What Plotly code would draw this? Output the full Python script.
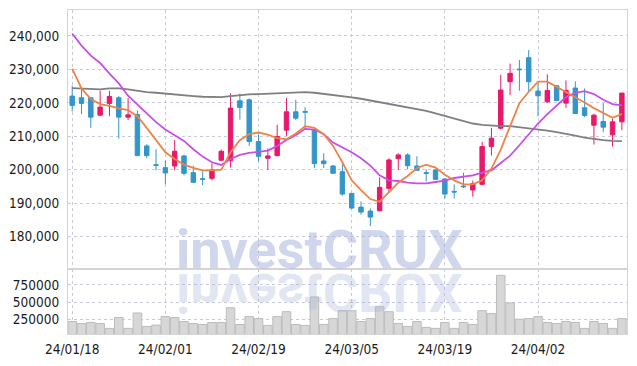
import plotly.graph_objects as go

dates = ["24/01/18","24/01/19","24/01/22","24/01/23","24/01/24","24/01/25","24/01/26","24/01/29","24/01/30","24/01/31",
         "24/02/01","24/02/02","24/02/05","24/02/06","24/02/07","24/02/08","24/02/13","24/02/14","24/02/15","24/02/16",
         "24/02/19","24/02/20","24/02/21","24/02/22","24/02/23","24/02/26","24/02/27","24/02/28","24/02/29","24/03/04",
         "24/03/05","24/03/06","24/03/07","24/03/08","24/03/11","24/03/12","24/03/13","24/03/14","24/03/15","24/03/18",
         "24/03/19","24/03/20","24/03/21","24/03/22","24/03/25","24/03/26","24/03/27","24/03/28","24/03/29","24/04/01",
         "24/04/02","24/04/03","24/04/04","24/04/05","24/04/08","24/04/09","24/04/11","24/04/12","24/04/15","24/04/16"]

open_ = [222000,221500,221500,216300,219800,221500,215700,216500,207100,201500,
         200600,201100,204100,199100,197300,197400,202800,202700,220600,220900,
         208400,203400,204200,211800,217300,217400,212000,202600,201100,199400,
         192900,188800,187600,187700,194400,203300,204400,201100,199100,199900,
         197200,193500,195100,193900,195600,206900,212400,226300,230100,233500,
         223500,220300,225100,219900,224400,218500,213300,214400,210400,214300]
high = [225100,224300,221700,223600,223600,222000,221400,217700,207600,206100,
        202700,208900,204400,201200,199500,201900,206000,222800,222800,221300,
        210600,206300,213400,221400,220900,218700,212200,204900,201400,202000,
        193000,190500,188400,197700,203400,204900,204900,204000,200100,200000,
        197500,195600,199100,196700,208300,212500,228400,231700,232800,235800,
        225800,228500,225200,226700,226400,224300,216700,219900,215300,223000]
low = [217400,216600,212500,216000,216000,209300,214800,204000,203400,199800,
       195600,199800,198300,196100,195400,196800,202500,200600,215000,207100,
       202500,199900,204000,210100,214800,212000,200500,200500,198800,192200,
       188200,186500,183100,187500,193200,199900,200100,199700,196500,197000,
       191300,191400,194500,191900,195500,204200,212000,222300,223600,223400,
       215900,219900,220600,218500,216700,215700,207500,211200,206900,211800]
close = [219200,219800,215700,218700,221900,215700,216400,204200,204200,201300,
         199000,205500,198900,196200,197100,199900,205500,218400,218600,208400,
         204000,204100,209900,217300,215400,217200,201800,201800,198900,192700,
         188500,187300,185800,194700,202900,204400,201200,199800,198900,197100,
         192700,193300,194900,195800,206900,209400,223800,228800,229900,226300,
         222100,223700,220700,223700,216800,216200,216300,212700,214300,222900]
volume = [216700,188100,202400,188100,116700,273800,116700,340500,145200,164300,
          288100,273800,216700,188100,173800,202400,202400,416700,173800,288100,
          259500,159500,288100,359500,173800,159500,573800,173800,259500,373800,
          373800,216700,259500,431000,359500,188100,145200,216700,131000,116700,
          202400,116700,202400,173800,373800,331000,888100,488100,250000,259500,
          288100,202400,188100,216700,202400,116700,216700,188100,116700,259500]
ma_short = [230200,224300,221100,219600,219100,218300,217800,216000,212500,208800,
            205200,203200,201500,200500,199800,199800,200000,205200,208800,210600,
            211100,210500,209400,209100,210800,213000,212500,210600,207100,202200,
            196800,193900,191200,190400,193400,196100,198100,200500,201500,200600,
            198500,196800,195600,195600,196800,200300,206000,213000,219900,223300,
            226300,226300,224800,223300,221700,220100,218400,216900,215500,216700]
ma_mid = [240700,237100,234100,231900,228700,225800,222100,219400,216600,214200,
          212000,210300,208600,206100,203900,202200,201400,203200,204400,205000,
          205400,205700,207100,208900,210300,212200,212000,210600,208100,206700,
          205200,203400,201200,198300,196800,196600,196100,195900,195900,196300,
          196700,197500,197800,198300,199100,199800,202000,204200,207300,210600,
          213800,216600,219200,221700,223000,223500,222600,220900,219600,219200]
ma_long = [224400,224200,224000,224000,224300,224300,224000,223500,223200,223000,
           222700,222500,222300,222000,221800,221700,221700,222000,222300,222500,
           222600,222700,222800,223000,223100,223200,223000,222700,222400,222000,
           221600,221200,220700,220100,219500,219000,218600,218100,217600,216800,
           216000,215200,214400,213800,213400,213100,213000,213000,212700,212500,
           212200,211700,211200,210800,210200,209600,209100,208800,208600,208500]
tick_dates = dates[0::10]
price_ticks = [180000,190000,200000,210000,220000,230000,240000]
volume_ticks = [250000,500000,750000]

RED = "#e8196a"
BLUE = "#3396c9"
GRID = "#c9c9dc"
FRAME = "#d4d4d4"
FONT = "DejaVu Sans Condensed"
WM_FONT = "Roboto, Open Sans, DejaVu Sans"

fig = go.Figure()
fig.add_trace(go.Candlestick(
    x=dates, open=open_, high=high, low=low, close=close,
    increasing=dict(line=dict(color=RED, width=1), fillcolor=RED),
    decreasing=dict(line=dict(color=BLUE, width=1), fillcolor=BLUE),
    whiskerwidth=0, xaxis="x", yaxis="y", showlegend=False))
fig.add_trace(go.Scatter(x=dates, y=ma_long, mode="lines", line=dict(color="#7f7f7f", width=1.8),
                         xaxis="x", yaxis="y", showlegend=False))
fig.add_trace(go.Scatter(x=dates, y=ma_mid, mode="lines", line=dict(color="#c84fe6", width=1.8),
                         xaxis="x", yaxis="y", showlegend=False))
fig.add_trace(go.Scatter(x=dates, y=ma_short, mode="lines", line=dict(color="#ef8348", width=1.8),
                         xaxis="x", yaxis="y", showlegend=False))
fig.add_trace(go.Bar(x=dates, y=volume, marker=dict(color="#d7d7d7", line=dict(color="#bcbcbc", width=1)),
                     xaxis="x2", yaxis="y2", showlegend=False))

split = 66 / 329
axis_common = dict(showline=True, linecolor=FRAME, linewidth=1.2, mirror=True, zeroline=False,
                   showgrid=True, gridcolor=GRID, griddash="dot", gridwidth=1,
                   tickfont=dict(family=FONT, size=13.5, color="#1a1a1a"), ticks="")
fig.update_layout(
    width=637, height=366, margin=dict(l=63, r=10, t=9, b=28),
    paper_bgcolor="white", plot_bgcolor="white", bargap=0.08, boxgap=0.32,
    xaxis=dict(axis_common, domain=[0, 1], anchor="y", type="category", categoryorder="array",
               categoryarray=dates, range=[-0.45, 59.55], tickvals=tick_dates, showticklabels=False,
               rangeslider=dict(visible=False)),
    xaxis2=dict(axis_common, domain=[0, 1], anchor="y2", type="category", categoryorder="array",
                categoryarray=dates, range=[-0.45, 59.55], tickvals=tick_dates, matches="x",
                ticklabelstandoff=3),
    yaxis=dict(axis_common, domain=[split, 1], anchor="x", range=[170280, 247750],
               tickvals=price_ticks, tickformat=",", ticklabelstandoff=5),
    yaxis2=dict(axis_common, domain=[0, split], anchor="x2", range=[35000, 980000],
                tickvals=volume_ticks, tickformat="d", ticklabelstandoff=5),
    annotations=[
        dict(text="<b>investCRUX</b>", xref="paper", yref="paper", x=0.45, y=0.157, xanchor="center",
             yanchor="bottom", showarrow=False,
             font=dict(family=WM_FONT, size=54, color="rgba(165,176,216,0.52)")),
        dict(text="<b>investCRUX</b>", xref="paper", yref="paper", x=0.45, y=0.025, xanchor="center",
             yanchor="bottom", showarrow=False,
             font=dict(family=WM_FONT, size=54, color="rgba(165,176,216,0.32)")),
    ],
)

post = """
function flipWM(){
  var gd = document.getElementById('{plot_id}');
  if(!gd) return;
  var a = gd.querySelector('.annotation[data-index="1"] text');
  if(a){
    a.style.transformBox = 'fill-box';
    a.style.transformOrigin = 'center';
    a.style.transform = 'scaleY(-1)';
  }
}
flipWM();
var gdd = document.getElementById('{plot_id}');
if(gdd && gdd.on){ gdd.on('plotly_afterplot', flipWM); }
"""
fig.write_html("out.html", post_script=post)
